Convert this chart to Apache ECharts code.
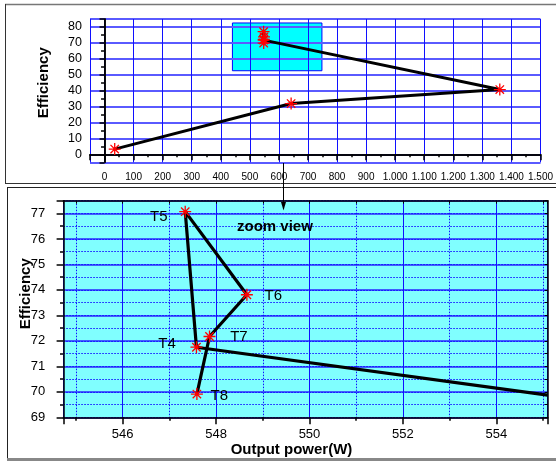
<!DOCTYPE html>
<html>
<head>
<meta charset="utf-8">
<script src="https://cdn.jsdelivr.net/npm/echarts@6/dist/echarts.min.js"></script>
<style>html,body{margin:0;padding:0;background:#fff;}#c{width:556px;height:461px;}</style>
</head>
<body>
<div id="c"></div>
<script>
// ---- data ----
var powerW      = [35, 642, 1360, 547.58, 547.34, 548.66, 547.86, 547.59];
var efficiency  = [3.3, 31.9, 40.7, 71.75, 77.07, 73.81, 72.17, 69.91];
// zoomed panel (as drawn in the zoom view; first entry = where the line enters from the right)
var zoomX     = [555.1, 547.58, 547.34, 548.66, 547.86, 547.59];
var zoomY     = [69.87, 71.75, 77.07, 73.81, 72.17, 69.91];
var zoomNames = ['', 'T4', 'T5', 'T6', 'T7', 'T8'];
// zoom region box in the overview
var zoomBoxX = [440, 748];
var zoomBoxY = [52.5, 82.5];
// axis ranges
var topXRange = [-50, 1500];
var topYRange = [-5, 85];
var botXRange = [544.73, 555.1];
var botYRange = [69, 77.5];

var labelStyle = {
  T4: {position: 'left',  distance: 14, offset: [0, -3]},
  T5: {position: 'left',  distance: 11, offset: [0, 5]},
  T6: {position: 'right', distance: 11, offset: [0, 1]},
  T7: {position: 'right', distance: 14, offset: [0, 0]},
  T8: {position: 'right', distance: 7,  offset: [0, 2]}
};

var STAR = 'path://M0,5L10,5M5,0L5,10M1.5,1.5L8.5,8.5M8.5,1.5L1.5,8.5';
var FONT = 'Liberation Sans, Arial, sans-serif';

function fmtThousands(v) {
  if (v < 0 || v % 100 !== 0) return '';
  if (v >= 1000) return Math.floor(v / 1000) + '.' + String(v % 1000).padStart(3, '0');
  return String(v);
}

var black = {lineStyle: {color: '#000', width: 1.5}};
function ax(o) { o.z = 1.5; return o; }

var chart = echarts.init(document.getElementById('c'));
var topData = powerW.map(function (x, i) { return [x, efficiency[i]]; });
var botData = zoomX.map(function (x, i) {
  var nm = zoomNames[i];
  var d = {value: [x, zoomY[i]], name: nm};
  if (!nm) { d.symbol = 'none'; }
  else {
    var s = labelStyle[nm];
    d.label = {show: true, position: s.position, distance: s.distance, offset: s.offset,
      formatter: nm, color: '#000', fontSize: 15, fontFamily: FONT};
  }
  return d;
});

chart.setOption({
  animation: false,
  backgroundColor: '#fff',
  grid: [
    {left: 90, top: 19, width: 457.5, height: 143.3, show: false},
    {left: 63.3, top: 200.7, width: 484.4, height: 216.6, show: true, backgroundColor: '#80ffff', borderWidth: 0}
  ],
  xAxis: [
    ax({gridIndex: 0, type: 'value', position: 'bottom', min: topXRange[0], max: topXRange[1], splitNumber: 15,
      axisLine: black, axisTick: {length: 6, lineStyle: {color: '#000', width: 1.5}},
      axisLabel: {formatter: fmtThousands, fontSize: 10, color: '#000', margin: 10, fontFamily: FONT},
      splitLine: {show: true, lineStyle: {color: '#1010ff', width: 1}}}),
    ax({gridIndex: 0, type: 'value', position: 'bottom', min: topXRange[0], max: topXRange[1], interval: 50,
      axisLine: {show: false}, axisTick: {length: 3, lineStyle: {color: '#000', width: 1.5}},
      axisLabel: {show: false}, splitLine: {show: false}}),
    ax({gridIndex: 0, type: 'value', position: 'top', min: topXRange[0], max: topXRange[1], interval: 50,
      axisLine: black, axisTick: {inside: true, length: 3, lineStyle: {color: '#000', width: 1.5}},
      axisLabel: {show: false}, splitLine: {show: false}}),
    ax({gridIndex: 1, type: 'value', position: 'bottom', min: botXRange[0], max: botXRange[1], splitNumber: 5,
      axisLine: black, axisTick: {length: 7, lineStyle: {color: '#000', width: 1.5}},
      axisLabel: {formatter: function (v) { var r = Math.round(v); return (Math.abs(v - r) > 1e-6 || r % 2) ? '' : String(r); },
        fontSize: 13, color: '#000', margin: 11, fontFamily: FONT},
      splitLine: {show: true, lineStyle: {color: '#1010ff', width: 1}}}),
    ax({gridIndex: 1, type: 'value', position: 'bottom', min: botXRange[0], max: botXRange[1], splitNumber: 10,
      axisLine: {show: false}, axisTick: {length: 3.5, lineStyle: {color: '#000', width: 1.5}},
      axisLabel: {show: false}, splitLine: {show: true, lineStyle: {color: '#1010ff', width: 1, type: [1.5, 1.5]}}}),
    ax({gridIndex: 1, type: 'value', position: 'top', min: botXRange[0], max: botXRange[1], splitNumber: 10,
      axisLine: black, axisTick: {inside: true, length: 3, lineStyle: {color: '#000', width: 1}},
      axisLabel: {show: false}, splitLine: {show: false}})
  ],
  yAxis: [
    ax({gridIndex: 0, type: 'value', position: 'left', min: topYRange[0], max: topYRange[1], splitNumber: 9,
      axisLine: black, axisTick: {length: 5, lineStyle: {color: '#000', width: 1.5}},
      axisLabel: {formatter: function (v) { return (v < 0 || v % 10 !== 0 || v > 80) ? '' : String(v); },
        fontSize: 12.5, color: '#000', margin: 8, fontFamily: FONT},
      splitLine: {show: true, lineStyle: {color: '#5a5aff', width: 2}}}),
    ax({gridIndex: 0, type: 'value', position: 'left', min: topYRange[0], max: topYRange[1], interval: 5,
      axisLine: {show: false}, axisTick: {length: 3, lineStyle: {color: '#000', width: 1.5}},
      axisLabel: {show: false}, splitLine: {show: false}}),
    ax({gridIndex: 0, type: 'value', position: 'right', min: topYRange[0], max: topYRange[1], interval: 5,
      axisLine: black, axisTick: {inside: true, length: 3.5, lineStyle: {color: '#000', width: 1.5}},
      axisLabel: {show: false}, splitLine: {show: false}}),
    ax({gridIndex: 1, type: 'value', position: 'left', min: botYRange[0], max: botYRange[1], interval: 1,
      axisLine: black, axisTick: {length: 6.7, lineStyle: {color: '#000', width: 1.5}},
      axisLabel: {formatter: function (v) { return (Math.abs(v - Math.round(v)) > 1e-6) ? '' : String(Math.round(v)); },
        fontSize: 13, color: '#000', margin: 18, fontFamily: FONT},
      splitLine: {show: true, lineStyle: {color: '#2a2aff', width: 1.5}}}),
    ax({gridIndex: 1, type: 'value', position: 'left', min: botYRange[0], max: botYRange[1], interval: 0.5,
      axisLine: {show: false}, axisTick: {length: 3.3, lineStyle: {color: '#000', width: 1.5}},
      axisLabel: {show: false}, splitLine: {show: true, lineStyle: {color: '#1010ff', width: 1, type: [1.5, 1.5]}}}),
    ax({gridIndex: 1, type: 'value', position: 'right', min: botYRange[0], max: botYRange[1], interval: 0.5,
      axisLine: black, axisTick: {inside: true, length: 3, lineStyle: {color: '#000', width: 1}},
      axisLabel: {show: false}, splitLine: {show: false}})
  ],
  series: [
    {
      type: 'line', xAxisIndex: 0, yAxisIndex: 0, z: 1, data: [], silent: true,
      markArea: {
        z: 1, silent: true,
        itemStyle: {color: '#00ffff', borderColor: '#0000ff', borderWidth: 1},
        label: {show: false},
        data: [[{coord: [zoomBoxX[0], zoomBoxY[0]]}, {coord: [zoomBoxX[1], zoomBoxY[1]]}]]
      }
    },
    {
      type: 'line', xAxisIndex: 0, yAxisIndex: 0, z: 3, data: topData,
      symbol: STAR, symbolSize: 12,
      itemStyle: {color: '#ff0000', borderColor: '#ff0000', borderWidth: 1.3},
      lineStyle: {color: '#000', width: 3}
    },
    {
      type: 'line', xAxisIndex: 3, yAxisIndex: 3, z: 3, data: botData,
      symbol: STAR, symbolSize: 12, showAllSymbol: true,
      itemStyle: {color: '#ff0000', borderColor: '#ff0000', borderWidth: 1.3},
      lineStyle: {color: '#000', width: 3.2}
    }
  ],
  graphic: [
    {type: 'line', shape: {x1: 5, y1: 4.5, x2: 556, y2: 4.5}, style: {stroke: '#777', lineWidth: 1.5}},
    {type: 'line', shape: {x1: 5.5, y1: 4, x2: 5.5, y2: 183.5}, style: {stroke: '#333', lineWidth: 1}},
    {type: 'line', shape: {x1: 5, y1: 183.5, x2: 556, y2: 183.5}, style: {stroke: '#333', lineWidth: 1}},
    {type: 'line', shape: {x1: 7, y1: 187.5, x2: 556, y2: 187.5}, style: {stroke: '#222', lineWidth: 1}},
    {type: 'line', shape: {x1: 7.5, y1: 187.5, x2: 7.5, y2: 459}, style: {stroke: '#222', lineWidth: 1}},
    {type: 'line', shape: {x1: 7, y1: 459.5, x2: 556, y2: 459.5}, style: {stroke: '#888', lineWidth: 3}},
    {type: 'line', shape: {x1: 283.5, y1: 163, x2: 283.5, y2: 204}, style: {stroke: '#000', lineWidth: 1}, z: 10},
    {type: 'polygon', shape: {points: [[281, 202], [286, 202], [283.5, 210.5]]}, style: {fill: '#000'}, z: 10},
    {type: 'text', x: 237, y: 227, z: 10, style: {text: 'zoom view', font: 'bold 15px ' + FONT, fill: '#000', textVerticalAlign: 'middle', verticalAlign: 'middle'}},
    {type: 'text', x: 43.5, y: 82.7, rotation: Math.PI / 2, style: {text: 'Efficiency', font: 'bold 15px ' + FONT, fill: '#000', align: 'center', verticalAlign: 'middle'}},
    {type: 'text', x: 25.7, y: 293.7, rotation: Math.PI / 2, style: {text: 'Efficiency', font: 'bold 15px ' + FONT, fill: '#000', align: 'center', verticalAlign: 'middle'}},
    {type: 'text', x: 291.5, y: 450, style: {text: 'Output power(W)', font: 'bold 15px ' + FONT, fill: '#000', align: 'center', verticalAlign: 'middle'}}
  ]
});
</script>
</body>
</html>
